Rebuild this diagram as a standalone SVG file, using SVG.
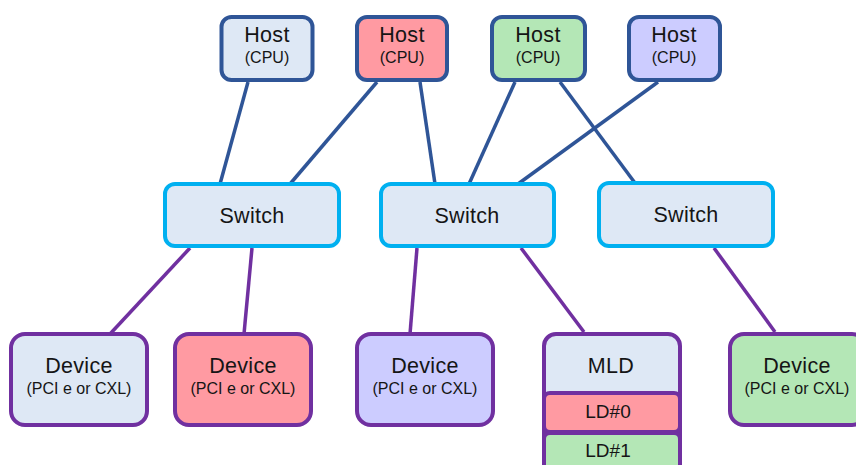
<svg xmlns="http://www.w3.org/2000/svg" width="856" height="465" viewBox="0 0 856 465">
<style>
.host{stroke:#2F5597;stroke-width:4}
.sw{stroke:#00B0F0;stroke-width:4;fill:#DEE8F5}
.dev{stroke:#7030A0;stroke-width:4}
.blue{fill:#DEE8F5}.red{fill:#FF9AA2}.green{fill:#B4E7B6}.lav{fill:#CCCCFF}
text{font-family:"Liberation Sans",Arial,sans-serif;fill:#151515;text-anchor:middle}
.big{font-size:21.5px;letter-spacing:0.3px}
.sm{font-size:16px}
.ld{font-size:19px}
.hl{stroke:#2F5597;stroke-width:3.5;fill:none}
.dl{stroke:#7030A0;stroke-width:3.5;fill:none}
</style>
<rect width="856" height="465" fill="#fff"/>
<g id="connectors">
<line class="hl" x1="248" y1="82" x2="220" y2="184"/>
<line class="hl" x1="377" y1="82" x2="290" y2="184"/>
<line class="hl" x1="420" y1="82" x2="435" y2="184"/>
<line class="hl" x1="515" y1="82" x2="469" y2="184"/>
<line class="hl" x1="560" y1="82" x2="635" y2="183"/>
<line class="hl" x1="658" y1="82" x2="518" y2="184"/>
<line class="dl" x1="190" y1="248" x2="110" y2="334"/>
<line class="dl" x1="252" y1="248" x2="244" y2="334"/>
<line class="dl" x1="417" y1="248" x2="410" y2="334"/>
<line class="dl" x1="521" y1="248" x2="584" y2="332"/>
<line class="dl" x1="714" y1="248" x2="775" y2="332"/>
</g>
<g id="host1"><rect class="host blue" x="221.5" y="17" width="91" height="63" rx="10"/><text class="big" x="267" y="42">Host</text><text class="sm" x="267" y="63">(CPU)</text></g>
<g id="host2"><rect class="host red" x="357" y="17" width="90" height="63" rx="10"/><text class="big" x="402" y="42">Host</text><text class="sm" x="402" y="63">(CPU)</text></g>
<g id="host3"><rect class="host green" x="492" y="17" width="93" height="63" rx="10"/><text class="big" x="538" y="42">Host</text><text class="sm" x="538" y="63">(CPU)</text></g>
<g id="host4"><rect class="host lav" x="629" y="17" width="91" height="63" rx="10"/><text class="big" x="674" y="42">Host</text><text class="sm" x="674" y="63">(CPU)</text></g>
<g id="switch1"><rect class="sw" x="165" y="184" width="174" height="62" rx="10"/><text class="big" x="252" y="223">Switch</text></g>
<g id="switch2"><rect class="sw" x="381" y="184" width="173" height="62" rx="10"/><text class="big" x="467" y="223">Switch</text></g>
<g id="switch3"><rect class="sw" x="599" y="183" width="174" height="63" rx="10"/><text class="big" x="686" y="222">Switch</text></g>
<g id="device1"><rect class="dev blue" x="11" y="334" width="136" height="91" rx="14"/><text class="big" x="79" y="373">Device</text><text class="sm" x="79" y="394">(PCI e or CXL)</text></g>
<g id="device2"><rect class="dev red" x="175" y="334" width="136" height="91" rx="14"/><text class="big" x="243" y="373">Device</text><text class="sm" x="243" y="394">(PCI e or CXL)</text></g>
<g id="device3"><rect class="dev lav" x="357" y="334" width="136" height="91" rx="14"/><text class="big" x="425" y="373">Device</text><text class="sm" x="425" y="394">(PCI e or CXL)</text></g>
<g id="mld"><rect class="dev blue" x="544" y="334" width="136" height="150" rx="12"/><text class="big" x="611" y="373">MLD</text></g>
<g id="ld0"><rect class="dev red" x="544" y="393" width="136" height="39" rx="6"/><text class="ld" x="608" y="418">LD#0</text></g>
<g id="ld1"><rect class="dev green" x="544" y="433" width="136" height="50" rx="6"/><text class="ld" x="608" y="457">LD#1</text></g>
<g id="device5"><rect class="dev green" x="730" y="334" width="136" height="91" rx="14"/><text class="big" x="797" y="373">Device</text><text class="sm" x="797" y="394">(PCI e or CXL)</text></g>
</svg>
